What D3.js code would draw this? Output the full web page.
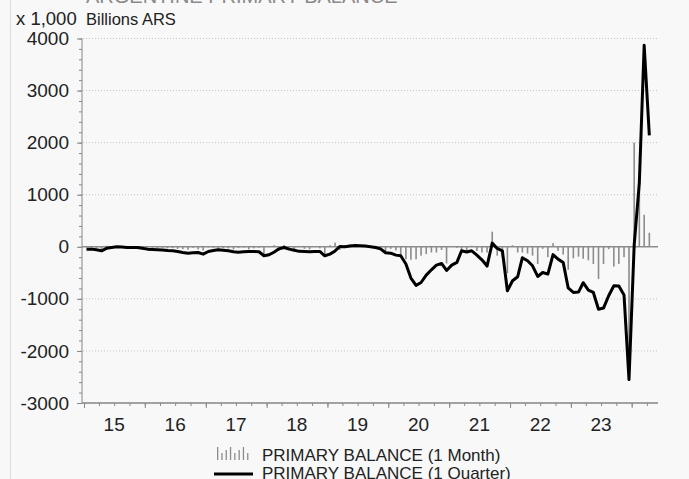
<!DOCTYPE html>
<html>
<head>
<meta charset="utf-8">
<script src="https://cdn.jsdelivr.net/npm/d3@7"></script>
<style>
  body { margin: 0; background: #fff; }
  svg { display: block; font-family: "Liberation Sans", Arial, sans-serif; }
</style>
</head>
<body>
<svg width="689" height="479"></svg>
<script>
// year labels on the x axis
var yearLabels = ["15", "16", "17", "18", "19", "20", "21", "22", "23"];
var yTicks = [-3000, -2000, -1000, 0, 1000, 2000, 3000, 4000];

// primary balance, 1 month, Jan 2015 ->
var monthly2015 = [-10, -15, -20, -40, 20, 5, 10, -15, -5, -5, -5, -20];
var monthly2016 = [-20, -15, -25, -20, -30, -25, -40, -45, -55, -20, -50, -70];
var monthly2017 = [-10, -20, -30, -25, -30, -50, -25, -15, -50, -30, -20, -170];
var monthly2018 = [5, 30, -80, 35, -25, -60, -5, -40, -50, -5, -30, -160];
var monthly2019 = [30, 80, -60, 30, 45, 10, 10, -5, -5, 20, -60, -90];
var monthly2020 = [-40, -70, -180, -240, -250, -240, -170, -140, -110, -110, -60, -320];
var monthly2021 = [15, -20, -60, -80, 20, -80, -110, -110, 290, -170, -200, -510];
var monthly2022 = [30, -110, -110, -130, -170, -330, -40, -200, 70, -80, -150, -440];
var monthly2023 = [-220, -190, -230, -260, -330, -620, -330, -45, -380, -330, -200, -2400];
var monthly2024 = [2000, 1250, 615, 270];

// primary balance, 1 quarter (rolling)
var quarter2015 = [-45, -45, -58, -77, -30, -13, 0, -5, -13, -13, -15, -30];
var quarter2016 = [-45, -50, -55, -60, -70, -77, -90, -109, -125, -115, -109, -141];
var quarter2017 = [-90, -70, -58, -65, -77, -95, -105, -95, -90, -90, -96, -173];
var quarter2018 = [-154, -100, -40, -13, -45, -65, -88, -92, -96, -92, -90, -173];
var quarter2019 = [-141, -80, 6, 0, 15, 26, 20, 15, 0, -13, -40, -115];
var quarter2020 = [-122, -160, -173, -330, -600, -740, -686, -545, -442, -352, -320, -455];
var quarter2021 = [-352, -300, -77, -100, -77, -160, -250, -370, 70, -32, -77, -845];
var quarter2022 = [-653, -575, -210, -269, -365, -570, -493, -525, -150, -237, -300, -790];
var quarter2023 = [-877, -870, -690, -833, -877, -1200, -1177, -941, -749, -755, -925, -2550];
var quarter2024 = [30, 1230, 3870, 2140];

var monthly = [].concat(monthly2015, monthly2016, monthly2017, monthly2018, monthly2019,
    monthly2020, monthly2021, monthly2022, monthly2023, monthly2024);
var quarterly = [].concat(quarter2015, quarter2016, quarter2017, quarter2018, quarter2019,
    quarter2020, quarter2021, quarter2022, quarter2023, quarter2024);

var svg = d3.select("svg");
var width = +svg.attr("width");
var height = +svg.attr("height");

svg.append("rect").attr("width", width).attr("height", height).attr("fill", "#f8f8f8");
svg.append("line").attr("x1", 10.5).attr("x2", 10.5).attr("y1", 0).attr("y2", height)
    .attr("stroke", "#dcdcdc");

var x = d3.scaleTime()
    .domain([new Date(2015, 0, 1), new Date(2024, 5, 1)])
    .range([84, 657]);
var y = d3.scaleLinear().domain([-3000, 4000]).range([403, 38.5]);

// one date per value, mid month
var months = monthly.map(function (d, i) { return new Date(2015, i, 16); });

// title (mostly cut off at the top)
svg.append("text").attr("x", 86).attr("y", 2.5)
    .attr("font-size", 20).attr("fill", "#8a8a8a")
    .text("ARGENTINE PRIMARY BALANCE");

svg.append("text").attr("x", 16).attr("y", 24.5).attr("font-size", 18.5).attr("fill", "#222")
    .text("x 1,000");
svg.append("text").attr("x", 86).attr("y", 25).attr("font-size", 16.5).attr("fill", "#222")
    .text("Billions ARS");

// gridlines
svg.append("g").selectAll("line")
    .data(yTicks.filter(function (d) { return d !== 0; }))
    .enter().append("line")
    .attr("x1", 83).attr("x2", 658)
    .attr("y1", function (d) { return y(d); }).attr("y2", function (d) { return y(d); })
    .attr("stroke", "#c4c4c4").attr("stroke-dasharray", "1,2");

// y axis
var yAxis = svg.append("g").attr("transform", "translate(82,0)")
    .call(d3.axisLeft(y).tickValues(yTicks).tickSize(5).tickPadding(8)
        .tickFormat(function (d) { return String(d); }));
var yMinor = svg.append("g").attr("transform", "translate(82,0)")
    .call(d3.axisLeft(y).tickValues(d3.range(-3000, 4001, 200)).tickSize(3).tickFormat(""));
[yAxis, yMinor].forEach(function (a) {
    a.select(".domain").remove();
    a.selectAll("line").attr("stroke", "#888");
});
yAxis.selectAll("text").attr("font-size", 19).attr("fill", "#222")
    .attr("font-family", "Liberation Sans, Arial, sans-serif");
svg.append("line").attr("x1", 82).attr("x2", 82).attr("y1", 38.5).attr("y2", 403)
    .attr("stroke", "#888");

// x axis
var xAxis = svg.append("g").attr("transform", "translate(0,403)")
    .call(d3.axisBottom(x).ticks(d3.timeYear).tickSize(5).tickFormat(""));
var xMinor = svg.append("g").attr("transform", "translate(0,403)")
    .call(d3.axisBottom(x).ticks(d3.timeMonth.every(3)).tickSize(3).tickFormat(""));
[xAxis, xMinor].forEach(function (a) {
    a.select(".domain").remove();
    a.selectAll("line").attr("stroke", "#888");
});
svg.append("line").attr("x1", 82).attr("x2", 658).attr("y1", 403).attr("y2", 403)
    .attr("stroke", "#888").attr("stroke-width", 1.5);
svg.append("g").selectAll("text").data(yearLabels).enter().append("text")
    .attr("x", function (d) { return x(new Date(2000 + (+d), 6, 1)); })
    .attr("y", 431).attr("text-anchor", "middle")
    .attr("font-size", 19).attr("fill", "#222")
    .text(function (d) { return d; });

// zero line
svg.append("line").attr("x1", 82).attr("x2", 658).attr("y1", y(0)).attr("y2", y(0))
    .attr("stroke", "#8c8c8c").attr("stroke-width", 1.5);

// monthly bars
svg.append("g").selectAll("rect").data(monthly).enter().append("rect")
    .attr("x", function (d, i) { return x(months[i]) - 0.8; })
    .attr("width", 1.6)
    .attr("y", function (d) { return y(Math.max(0, d)); })
    .attr("height", function (d) { return Math.abs(y(d) - y(0)); })
    .attr("fill", "#8c8c8c");

// quarterly line
var line = d3.line()
    .x(function (d, i) { return x(months[i]); })
    .y(function (d) { return y(d); });
svg.append("path").datum(quarterly)
    .attr("d", line)
    .attr("fill", "none").attr("stroke", "#000").attr("stroke-width", 3)
    .attr("stroke-linejoin", "round");

// legend
var iconH = [13, 7, 10, 13, 7, 10, 13, 7];
svg.append("g").selectAll("rect").data(iconH).enter().append("rect")
    .attr("x", function (d, i) { return 217 + i * 4.3; })
    .attr("y", function (d) { return 460 - d; })
    .attr("width", 1.3).attr("height", function (d) { return d; })
    .attr("fill", "#8c8c8c");
svg.append("text").attr("x", 262).attr("y", 461).attr("font-size", 17).attr("fill", "#222")
    .text("PRIMARY BALANCE (1 Month)");
svg.append("line").attr("x1", 214).attr("x2", 253).attr("y1", 474).attr("y2", 474)
    .attr("stroke", "#000").attr("stroke-width", 3);
svg.append("text").attr("x", 262).attr("y", 479).attr("font-size", 17).attr("fill", "#222")
    .text("PRIMARY BALANCE (1 Quarter)");
</script>
</body>
</html>
